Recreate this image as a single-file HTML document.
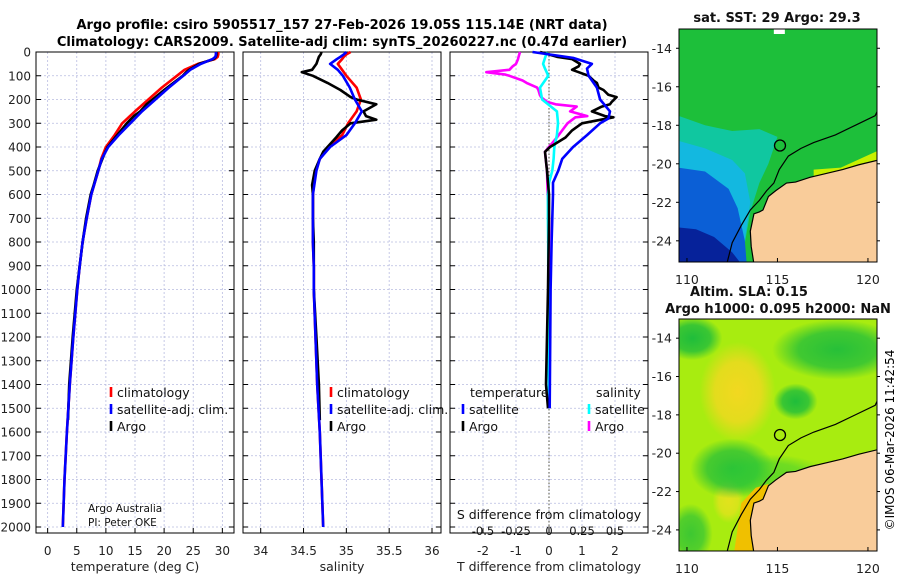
<!DOCTYPE html>
<html><head><meta charset="utf-8"><style>
html,body{margin:0;padding:0;background:#fff;}
svg{display:block;font-family:"DejaVu Sans","Liberation Sans",sans-serif;}
</style></head><body>
<svg id="fig" width="900" height="580" viewBox="0 0 900 580" xmlns="http://www.w3.org/2000/svg">
<text x="342" y="29" font-size="13" font-weight="bold" text-anchor="middle">Argo profile: csiro 5905517_157 27-Feb-2026 19.05S 115.14E (NRT data)</text>
<text x="342" y="46" font-size="13" font-weight="bold" text-anchor="middle">Climatology: CARS2009. Satellite-adj clim: synTS_20260227.nc (0.47d earlier)</text>
<g id="p1"></g>
<g id="p2"></g>
<g id="p3"></g>
<g id="m1"></g>
<g id="m2"></g>
<text transform="translate(894,440) rotate(-90)" font-size="12" text-anchor="middle">©IMOS 06-Mar-2026 11:42:54</text>
</svg>
<script>
// ---- data ----
const depthGrid = [0,10,20,30,50,75,100,150,200,250,300,350,400,450,500,600,700,800,900,1000,1200,1400,1600,1800,2000];
const tempClim = [29.3,29.3,29.2,28.7,25.8,23.5,22.2,19.6,17.3,15.0,12.8,11.5,10.0,9.2,8.7,7.5,6.7,6.0,5.5,5.1,4.4,3.8,3.3,2.9,2.6];
const tempSat  = [28.9,28.9,28.8,28.3,26.3,24.5,23.3,20.8,18.5,16.2,14.2,12.2,10.4,9.3,8.7,7.5,6.7,6.0,5.5,5.1,4.4,3.8,3.3,2.9,2.6];
const salClim = [35.05,35.0,34.97,34.95,34.9,34.95,35.0,35.12,35.17,35.12,35.02,34.95,34.8,34.69,34.64,34.61,34.61,34.61,34.62,34.62,34.64,34.66,34.69,34.71,34.73];
const salSat  = [35.0,34.97,34.93,34.89,34.81,34.9,34.96,35.04,35.1,35.18,35.1,35.0,34.81,34.69,34.65,34.61,34.61,34.61,34.62,34.62,34.64,34.66,34.69,34.71,34.73];
const argoDepth = [0,10,20,30,50,75,85,100,130,160,190,200,220,250,270,285,300,330,360,400,420,450,500,560,600,700,800,900,1000,1200,1400,1550];
const argoTemp = [29.0,29.0,28.9,28.5,26.0,24.3,23.8,23.2,21.6,20.0,18.5,18.0,17.0,15.9,14.8,14.2,13.6,12.6,11.6,10.3,9.9,9.4,8.6,7.9,7.4,6.6,6.0,5.5,5.0,4.3,3.7,3.5];
const argoSal = [34.71,34.70,34.68,34.67,34.65,34.6,34.48,34.61,34.78,34.93,35.05,35.12,35.35,35.2,35.23,35.35,35.05,34.95,34.88,34.78,34.73,34.69,34.63,34.6,34.61,34.61,34.62,34.62,34.62,34.65,34.68,34.69];
const satDiffDepth = [0,25,50,70,100,150,200,250,280,300,350,400,450,500,550,600,700,800,1000,1500];
const satTdiff = [-0.5,0.73,1.3,1.15,1.2,1.45,1.55,1.85,1.8,1.55,1.15,0.73,0.4,0.28,0.12,0.12,0.1,0.08,0.05,0.02];
const satSdiff = [-0.015,-0.03,-0.045,-0.03,-0.005,-0.068,-0.052,0.06,0.065,0.068,0.06,0.04,0.035,0.025,0.0,-0.008,-0.008,-0.006,-0.005,0.0];
const argoDiffDepth = [0,20,30,50,60,75,85,95,100,120,130,150,160,180,190,210,220,230,250,270,275,300,330,360,400,420,500,600,700,1000,1400,1500];
const argoTdiff = [-0.27,0.24,0.7,0.94,0.9,0.7,0.9,1.1,1.2,1.35,1.45,1.5,1.65,1.8,2.05,1.9,1.85,1.6,1.3,1.7,1.95,1.0,0.7,0.5,0.03,-0.12,-0.06,0.0,0.0,-0.03,-0.09,-0.03];
const argoSdiff = [-0.22,-0.23,-0.235,-0.25,-0.275,-0.3,-0.475,-0.33,-0.3,-0.2,-0.17,-0.09,-0.08,-0.07,-0.06,-0.015,0.05,0.21,0.16,0.29,0.2,0.14,0.1,0.06,0.0,-0.03,-0.015,-0.01,0.0,0.0,0.0,0.0];
const tTicks=[0,5,10,15,20,25,30], sTicks=[34,34.5,35,35.5,36], dTicks=[-2,-1,0,1,2], sdTicks=[-0.5,-0.25,0,0.25,0.5];
const sdTickLabels=["-0.5","-0.25","0","0.25","0.5"];
const depthTicks=[];for(let d=0;d<=2000;d+=100)depthTicks.push(d);
const coastLon=[120.6,119.5,118.6,117.7,116.8,116.0,115.5,114.9,114.5,114.2,114.0,113.7,113.5,113.55,113.7];
const coastLat=[-19.8,-20.05,-20.3,-20.5,-20.7,-20.95,-21.0,-21.4,-21.7,-22.4,-22.5,-22.6,-23.5,-24.3,-25.2];
const isoLon=[120.6,120.4,119.3,118.2,117.0,116.3,115.6,115.1,114.8,114.4,114.0,113.5,113.0,112.5,112.2];
const isoLat=[-17.1,-17.5,-18.0,-18.5,-18.9,-19.2,-19.6,-20.3,-21.0,-21.4,-21.9,-22.4,-23.2,-24.1,-25.2];
const argoLon=115.14, argoLat=-19.05;
const lonTicks=[110,115,120], latTicks=[-14,-16,-18,-20,-22,-24];
// ---- helpers ----
const NS="http://www.w3.org/2000/svg";
function mk(tag,attrs,parent){const e=document.createElementNS(NS,tag);for(const k in attrs)e.setAttribute(k,attrs[k]);parent.appendChild(e);return e;}
const Y0=52, PX100=23.75;
const yD=d=>Y0+d/100*PX100;
const panelTop=52, panelBot=533;
function lin(a,b,p,q){return v=>p+(v-a)/(b-a)*(q-p);}
function panel(g,x0,x1,xs,xt,xlabels,title,showY){
  depthTicks.forEach(d=>{const l=mk('line',{x1:x0,x2:x1,y1:yD(d),y2:yD(d),stroke:'#b8bce0','stroke-width':0.8,'stroke-dasharray':'2,2'},g);
    });
  xt.forEach((v,i)=>{const x=xs(v);const l=mk('line',{x1:x,x2:x,y1:panelTop,y2:panelBot,stroke:'#b8bce0','stroke-width':0.8,'stroke-dasharray':'2,2'},g);
    
    mk('line',{x1:x,x2:x,y1:panelBot,y2:panelBot-5,stroke:'#000'},g);
    const t=mk('text',{x:x,y:555,'font-size':12,'text-anchor':'middle',fill:'#222'},g);t.textContent=xlabels[i];
    });
  depthTicks.forEach(d=>{mk('line',{x1:x0,x2:x0+5,y1:yD(d),y2:yD(d),stroke:'#000'},g);mk('line',{x1:x1,x2:x1-5,y1:yD(d),y2:yD(d),stroke:'#000'},g);
    if(showY){const t=mk('text',{x:31,y:yD(d)+4.5,'font-size':12,'text-anchor':'end',fill:'#222'},g);t.textContent=d;
      }});
  const r=mk('rect',{x:x0,y:panelTop,width:x1-x0,height:panelBot-panelTop,fill:'none',stroke:'#000','stroke-width':1},g);
  
  const tt=mk('text',{x:(x0+x1)/2,y:571,'font-size':12.5,'text-anchor':'middle',fill:'#222'},g);tt.textContent=title;
  
}
function series(g,xs,vals,depths,color,name,w){
  const pts=vals.map((v,i)=>xs(v).toFixed(1)+','+yD(depths[i]).toFixed(1)).join(' ');
  const p=mk('polyline',{points:pts,fill:'none',stroke:color,'stroke-width':w||2.6,'stroke-linejoin':'round'},g);
  
}
function legend(g,x,y,color,label,name){
  const l=mk('line',{x1:x,x2:x,y1:y-10,y2:y,stroke:color,'stroke-width':2.6},g);
  
  const t=mk('text',{x:x+6,y:y,'font-size':12.5,fill:'#111'},g);t.textContent=label;
  
}
// ---- panel 1 ----
const p1=document.getElementById('p1');
const xT=lin(-2,32,36,234);
panel(p1,36,234,xT,tTicks,tTicks.map(String),'temperature (deg C)',true);
series(p1,xT,tempClim,depthGrid,'#f00','temp-climatology-line');
series(p1,xT,argoTemp,argoDepth,'#000','temp-argo-line');
series(p1,xT,tempSat,depthGrid,'#00f','temp-satellite-line');
legend(p1,111,397,'#f00','climatology','legend-climatology');
legend(p1,111,414,'#00f','satellite-adj. clim.','legend-satellite');
legend(p1,111,431,'#000','Argo','legend-argo');
[['Argo Australia',512],['PI: Peter OKE',526]].forEach(([s,y])=>{const t=mk('text',{x:88,y:y,'font-size':10.5,fill:'#111'},p1);t.textContent=s;
  });
// ---- panel 2 ----
const p2=document.getElementById('p2');
const xS=lin(34,36,260.7,432);
panel(p2,243,441,xS,sTicks,sTicks.map(String),'salinity',false);
series(p2,xS,salClim,depthGrid,'#f00','sal-climatology-line');
series(p2,xS,argoSal,argoDepth,'#000','sal-argo-line');
series(p2,xS,salSat,depthGrid,'#00f','sal-satellite-line');
legend(p2,331,397,'#f00','climatology','legend-climatology');
legend(p2,331,414,'#00f','satellite-adj. clim.','legend-satellite');
legend(p2,331,431,'#000','Argo','legend-argo');
// ---- panel 3 ----
const p3=document.getElementById('p3');
const xD=lin(-3,3,450,648);
const xSD=lin(-0.75,0.75,450,648);
panel(p3,450,648,xD,dTicks,dTicks.map(String),'T difference from climatology',false);
mk('line',{x1:xD(0),x2:xD(0),y1:panelTop,y2:yD(2000),stroke:'#554',"stroke-width":1,'stroke-dasharray':'1.5,2'},p3);
series(p3,xSD,argoSdiff,argoDiffDepth,'#f0f','sal-diff-argo-line');
series(p3,xSD,satSdiff,satDiffDepth,'#0ff','sal-diff-satellite-line');
series(p3,xD,argoTdiff,argoDiffDepth,'#000','temp-diff-argo-line');
series(p3,xD,satTdiff,satDiffDepth,'#00f','temp-diff-satellite-line');
(function(){const t=mk('text',{x:470,y:397,'font-size':12.5,fill:'#111'},p3);t.textContent='temperature';
 
 const s=mk('text',{x:596,y:397,'font-size':12.5,fill:'#111'},p3);s.textContent='salinity';
 })();
legend(p3,463,414,'#00f','satellite','legend-temp-satellite');
legend(p3,463,431,'#000','Argo','legend-temp-argo');
legend(p3,589,414,'#0ff','satellite','legend-sal-satellite');
legend(p3,589,431,'#f0f','Argo','legend-sal-argo');
(function(){const t=mk('text',{x:549,y:519,'font-size':12.5,'text-anchor':'middle',fill:'#111'},p3);t.textContent='S difference from climatology';
 
 sdTicks.forEach((v,i)=>{const l=mk('text',{x:xSD(v),y:535,'font-size':11.5,'text-anchor':'middle',fill:'#111'},p3);l.textContent=sdTickLabels[i];
 });})();
// ---- maps ----
function map(g,top,bot,titles,kind){
  const L=679,R=877;
  const xL=lin(109.56,120.5,L,R), yL=lin(-13.0,-25.1,top,bot);
  const id='clip'+kind;
  const cp=mk('clipPath',{id:id},g);mk('rect',{x:L,y:top,width:R-L,height:bot-top},cp);
  const c=mk('g',{'clip-path':'url(#'+id+')'},g);
  if(kind==='sst'){
    mk('rect',{x:L,y:top,width:R-L,height:bot-top,fill:'#1dbf3a'},c);
    const poly=(pts,fill,name)=>{const p=mk('polygon',{points:pts.map(q=>xL(q[0])+','+yL(q[1])).join(' '),fill:fill},c);};
    poly([[109.5,-17.5],[111,-18],[112.5,-18.3],[114,-18.2],[115,-18.6],[114.5,-20],[114,-21],[113.5,-22.5],[113,-25.2],[109.5,-25.2]],'#10c7a0','sst-warm-cyan');
    poly([[109.5,-18.8],[111,-19.2],[112.5,-19.8],[113.2,-20.5],[113.5,-22],[113,-25.2],[109.5,-25.2]],'#13b8e0','sst-cyan');
    poly([[109.5,-20.2],[111,-20.4],[112.3,-21.3],[112.8,-22.3],[113.2,-24],[113.3,-25.2],[109.5,-25.2]],'#0b5fd6','sst-blue');
    poly([[109.5,-23.3],[110.5,-23.4],[111.5,-23.8],[112.5,-24.6],[113,-25.2],[109.5,-25.2]],'#06229a','sst-deep-blue');
    poly([[117,-20.3],[118.5,-20.2],[120.6,-19.3],[120.6,-20.5],[117,-21]],'#c8f000','sst-coastal-warm');
    mk('rect',{x:xL(114.8),y:top,width:11,height:5,fill:'#fff'},c);
  } else {
    mk('rect',{x:L,y:top,width:R-L,height:bot-top,fill:'#a8ec10'},c);
    const df=mk('defs',{},g);
    const blob=(cx,cy,rx,ry,col,name,op)=>{const gid='g'+name;const rg=mk('radialGradient',{id:gid},df);
      mk('stop',{offset:'0%','stop-color':col,'stop-opacity':op},rg);mk('stop',{offset:'60%','stop-color':col,'stop-opacity':op*0.8},rg);mk('stop',{offset:'100%','stop-color':col,'stop-opacity':0},rg);
      const e=mk('ellipse',{cx:xL(cx),cy:yL(cy),rx:rx,ry:ry,fill:'url(#'+gid+')'},c);};
    blob(112.8,-16.8,38,50,'#f2d820','sla-yellow-1',1);
    blob(112.3,-22.5,16,22,'#f0e020','sla-yellow-2',0.8);
    blob(110.3,-14.0,30,22,'#10b840','sla-green-1',0.9);
    blob(118.3,-14.6,65,30,'#10b840','sla-green-2',0.85);
    blob(116.0,-17.3,22,18,'#10b840','sla-green-3',0.9);
    blob(112.5,-20.8,42,30,'#10b840','sla-green-4',0.8);
    blob(110.2,-24.2,22,30,'#10b840','sla-green-5',0.7);
    blob(114.5,-21.2,60,22,'#28c838','sla-green-6',0.55);
    const p=mk('polygon',{points:[[113.0,-22.6],[113.8,-21.8],[114.5,-21.6],[114.0,-23],[113.6,-25.2],[112.6,-25.2]].map(q=>xL(q[0])+','+yL(q[1])).join(' '),fill:'#f0c000'},c);
    
  }
  const land=coastLon.map((v,i)=>xL(v)+','+yL(coastLat[i])).join(' ')+' '+xL(120.6)+','+yL(-25.2);
  const lp=mk('polygon',{points:land,fill:'#f9cc9a',stroke:'#000','stroke-width':1.2},c);
  
  const iso=mk('polyline',{points:isoLon.map((v,i)=>xL(v)+','+yL(isoLat[i])).join(' '),fill:'none',stroke:'#000','stroke-width':1.2},c);
  
  const ci=mk('circle',{cx:xL(argoLon),cy:yL(argoLat),r:5.5,fill:'none',stroke:'#000','stroke-width':1.3},c);
  
  const fr=mk('rect',{x:L,y:top,width:R-L,height:bot-top,fill:'none',stroke:'#000','stroke-width':1},g);
  
  lonTicks.forEach(v=>{const t=mk('text',{x:xL(v),y:bot+22,'font-size':12.5,'text-anchor':'middle',fill:'#222'},g);t.textContent=v;
    
    mk('line',{x1:xL(v),x2:xL(v),y1:bot,y2:bot-4,stroke:'#000'},g);});
  latTicks.forEach(v=>{const t=mk('text',{x:L-7,y:yL(v)+4.5,'font-size':12.5,'text-anchor':'end',fill:'#222'},g);t.textContent=v;
    
    mk('line',{x1:L,x2:L-3,y1:yL(v),y2:yL(v),stroke:'#000'},g);mk('line',{x1:R,x2:R+3,y1:yL(v),y2:yL(v),stroke:'#000'},g);});
  titles.forEach((s,i)=>{const t=mk('text',{x:s[1],y:s[2],'font-size':13,'font-weight':'bold','text-anchor':'middle',fill:'#111'},g);t.textContent=s[0];
    });
}
map(document.getElementById('m1'),29,262,[['sat. SST: 29 Argo: 29.3',777,22]],'sst');
map(document.getElementById('m2'),319,551,[['Altim. SLA: 0.15',749,296],['Argo h1000: 0.095 h2000: NaN',778,313]],'sla');
</script>
</body></html>
